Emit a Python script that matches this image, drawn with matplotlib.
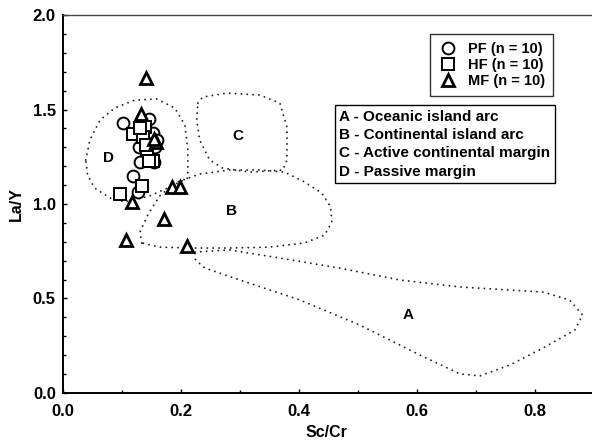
import matplotlib
matplotlib.use('Agg')
import matplotlib.pyplot as plt
import numpy as np

plt.rcParams['font.family'] = ['Liberation Sans', 'DejaVu Sans']
plt.rcParams['font.weight'] = 'bold'

# samples (Sc/Cr, La/Y)
pf_x = [0.102, 0.147, 0.153, 0.159, 0.129, 0.131, 0.154, 0.119, 0.127, 0.156]
pf_y = [1.43, 1.45, 1.375, 1.34, 1.30, 1.22, 1.22, 1.15, 1.065, 1.30]

hf_x = [0.139, 0.119, 0.136, 0.142, 0.153, 0.134, 0.097, 0.141, 0.147, 0.131]
hf_y = [1.41, 1.37, 1.355, 1.285, 1.23, 1.095, 1.053, 1.31, 1.23, 1.40]

mf_x = [0.141, 0.132, 0.158, 0.186, 0.198, 0.117, 0.172, 0.108, 0.210, 0.155]
mf_y = [1.667, 1.476, 1.33, 1.09, 1.09, 1.01, 0.92, 0.81, 0.778, 1.345]

# tectonic setting fields
field_a_x = [0.224, 0.283, 0.368, 0.469, 0.571, 0.673, 0.814, 0.859, 0.881, 0.868,
             0.814, 0.758, 0.707, 0.673, 0.605, 0.503, 0.402, 0.300, 0.241, 0.225]
field_a_y = [0.746, 0.757, 0.714, 0.661, 0.598, 0.561, 0.534, 0.492, 0.413, 0.333,
             0.238, 0.148, 0.090, 0.101, 0.201, 0.360, 0.492, 0.598, 0.661, 0.704]

field_b_x = [0.134, 0.131, 0.144, 0.164, 0.190, 0.232, 0.283, 0.334, 0.376, 0.410,
             0.439, 0.454, 0.456, 0.444, 0.410, 0.351, 0.283, 0.215, 0.164]
field_b_y = [0.794, 0.852, 0.942, 1.042, 1.111, 1.159, 1.180, 1.180, 1.169, 1.116,
             1.058, 0.984, 0.905, 0.836, 0.794, 0.772, 0.767, 0.767, 0.772]

field_c_x = [0.229, 0.237, 0.278, 0.334, 0.368, 0.380, 0.380, 0.373, 0.317, 0.271,
             0.249, 0.232, 0.227]
field_c_y = [1.534, 1.566, 1.587, 1.577, 1.534, 1.407, 1.233, 1.180, 1.169, 1.190,
             1.233, 1.339, 1.444]

field_d_x = [0.039, 0.046, 0.063, 0.088, 0.122, 0.159, 0.190, 0.207, 0.212, 0.212,
             0.181, 0.147, 0.105, 0.080, 0.054, 0.042]
field_d_y = [1.233, 1.339, 1.444, 1.508, 1.550, 1.556, 1.508, 1.418, 1.286, 1.138,
             1.090, 1.042, 1.011, 1.032, 1.085, 1.153]

field_labels = ['A', 'B', 'C', 'D']
label_x = [0.586, 0.286, 0.297, 0.078]
label_y = [0.413, 0.963, 1.36, 1.243]

fig = plt.figure(figsize=(5.92, 4.44), dpi=100)
ax = fig.add_axes([0.106, 0.115, 0.892, 0.851])

for fx, fy in [(field_a_x, field_a_y), (field_b_x, field_b_y),
               (field_c_x, field_c_y), (field_d_x, field_d_y)]:
    ax.plot(fx + fx[:1], fy + fy[:1], color='#222222', lw=1.4,
            linestyle=(0, (0.01, 3.0)), dash_capstyle='round')

for lab, lx, ly in zip(field_labels, label_x, label_y):
    ax.text(lx, ly, lab, fontsize=11, fontweight='bold', ha='center', va='center')

ax.plot(pf_x, pf_y, 'o', ms=8.5, mfc='white', mec='black', mew=1.4,
        ls='none', label='PF (n = 10)')
ax.plot(hf_x, hf_y, 's', ms=8.5, mfc='white', mec='black', mew=1.4,
        ls='none', label='HF (n = 10)')
ax.plot(mf_x, mf_y, '^', ms=8.5, mfc='white', mec='black', mew=2,
        ls='none', label='MF (n = 10)')

leg = ax.legend(loc='upper right', bbox_to_anchor=(0.928, 0.95), fontsize=10.5,
                frameon=True, fancybox=False, edgecolor='black',
                handletextpad=0.7, borderpad=0.55, labelspacing=0.15,
                handlelength=1.3, borderaxespad=0)
leg.get_frame().set_linewidth(1.0)

ax.text(0.469, 1.50,
        'A - Oceanic island arc\nB - Continental island arc\n'
        'C - Active continental margin\nD - Passive margin',
        fontsize=11, fontweight='bold', va='top', ha='left', linespacing=1.4,
        bbox=dict(boxstyle='square,pad=0.3', fc='white', ec='black', lw=1.0))

ax.set_xlim(0, 0.895)
ax.set_ylim(0, 2.0)
ax.set_xticks([0.0, 0.2, 0.4, 0.6, 0.8])
ax.set_xticks(np.arange(0, 0.9, 0.1), minor=True)
ax.set_yticks([0.0, 0.5, 1.0, 1.5, 2.0])
ax.set_yticks(np.arange(0, 2.01, 0.1), minor=True)
ax.xaxis.set_major_formatter(plt.FormatStrFormatter('%.1f'))
ax.yaxis.set_major_formatter(plt.FormatStrFormatter('%.1f'))
ax.tick_params(which='both', direction='in', labelsize=12, width=1)
ax.tick_params(which='major', length=3)
ax.tick_params(which='minor', length=2)
ax.tick_params(axis='x', pad=8)
ax.tick_params(axis='y', pad=5)
ax.spines['right'].set_visible(False)
for s in ['left', 'bottom']:
    ax.spines[s].set_linewidth(1.4)
ax.spines['top'].set_linewidth(1.0)
ax.spines['top'].set_color('#444444')

ax.set_xlabel('Sc/Cr', fontsize=11.5, fontweight='bold', labelpad=4)
ax.set_ylabel('La/Y', fontsize=11.5, fontweight='bold', labelpad=6)

fig.savefig('out.png', dpi=100)
